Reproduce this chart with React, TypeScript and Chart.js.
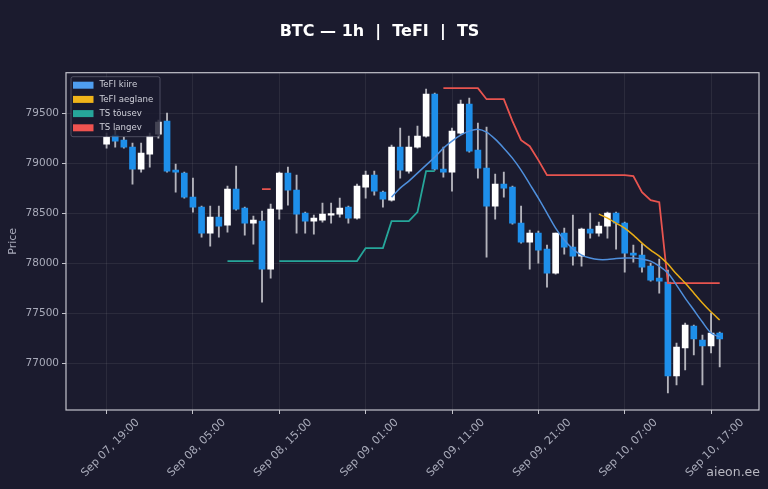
import { useEffect, useRef } from 'react';
import { Chart, registerables } from 'chart.js';

Chart.register(...registerables);

// hourly candles, Sep 07 19:00 -> Sep 10 18:00
const opens = [
  79190, 79280, 79230, 79160, 78940, 79090, 79290, 79420, 78930, 78900,
  78660, 78560, 78300, 78460, 78380, 78740, 78550, 78400, 78420, 77940,
  78540, 78900, 78730, 78500, 78420, 78430, 78480, 78490, 78560, 78450,
  78760, 78880, 78710, 78630, 79160, 78920, 79160, 79270, 79690, 78940,
  78910, 79300, 79590, 79130, 78950, 78570, 78790, 78760, 78400, 78210,
  78300, 78140, 77900, 78300, 78160, 78070, 78340, 78300, 78370, 78500,
  78400, 78100, 78080, 77970, 77850, 77810, 76870, 77150, 77370, 77230,
  77170, 77300,
];
const highs = [
  79300, 79340, 79260, 79200, 79200, 79300, 79430, 79500, 78990, 78910,
  78850, 78570, 78570, 78570, 78770, 78970, 78560, 78470, 78520, 78590,
  78910, 78960, 78880, 78510, 78480, 78600, 78600, 78650, 78570, 78790,
  78920, 78920, 78720, 79180, 79350, 79270, 79370, 79740, 79700, 79160,
  79350, 79630, 79650, 79400, 79360, 78890, 78910, 78770, 78570, 78330,
  78320, 78180, 78300, 78350, 78480, 78350, 78500, 78410, 78510, 78510,
  78410, 78180, 78190, 78000, 78040, 77930, 77200, 77400, 77380, 77280,
  77500, 77310,
];
const lows = [
  79150, 79160, 79150, 78790, 78910, 78960, 79250, 78910, 78710, 78650,
  78510, 78260, 78170, 78260, 78310, 78530, 78280, 78190, 77610, 77850,
  78440, 78580, 78300, 78300, 78290, 78410, 78400, 78460, 78400, 78440,
  78650, 78680, 78560, 78620, 78850, 78900, 79150, 79260, 78930, 78860,
  78720, 79290, 79110, 78850, 78060, 78440, 78660, 78390, 78200, 77940,
  78000, 77760, 77890, 78090, 77980, 77970, 78250, 78270, 78250, 78140,
  77910, 78010, 77910, 77820, 77700, 76700, 76780, 76930, 77080, 76780,
  77100, 76960,
];
const closes = [
  79260, 79220, 79160, 78940, 79100, 79270, 79410, 78920, 78910, 78660,
  78560, 78300, 78460, 78370, 78740, 78540, 78400, 78430, 77940, 78540,
  78900, 78730, 78490, 78420, 78450, 78490, 78490, 78550, 78450, 78770,
  78880, 78720, 78640, 79160, 78930, 79160, 79270, 79690, 78940, 78910,
  79320, 79590, 79120, 78950, 78570, 78790, 78750, 78400, 78210, 78300,
  78130, 77900, 78300, 78160, 78070, 78340, 78300, 78370, 78500, 78400,
  78100, 78080, 77960, 77830, 77820, 76870, 77160, 77380, 77240, 77170,
  77300, 77240,
];

const N = null;
const tefiFast = [
  N, N, N, N, N, N, N, N, N, N, N, N, N, N, N, N, N, N, N, N,
  N, N, N, N, N, N, N, N, N, N, N, N, N, 78660, 78750, 78820, 78900, 78980, 79060, 79150,
  79220, 79280, 79320, 79340, 79310, 79240, 79150, 79050, 78930, 78790,
  78650, 78500, 78350, 78230, 78140, 78080, 78050, 78035, 78035, 78045,
  78050, 78050, 78040, 78020, 77970, 77900, 77780, 77650, 77530, 77410,
  77300, 77260,
];
const tefiSlow = [
  N, N, N, N, N, N, N, N, N, N, N, N, N, N, N, N, N, N, N, N,
  N, N, N, N, N, N, N, N, N, N, N, N, N, N, N, N, N, N, N, N,
  N, N, N, N, N, N, N, N, N, N, N, N, N, N, N, N, N, 78490, 78450, 78400,
  78350, 78280, 78200, 78130, 78070, 77990, 77890, 77800, 77700, 77600,
  77510, 77430,
];
const tsUp = [
  N, N, N, N, N, N, N, N, N, N, N, N, N, N, 78020, 78020, 78020, 78020, N, N,
  78020, 78020, 78020, 78020, 78020, 78020, 78020, 78020, 78020, 78020,
  78150, 78150, 78150, 78420, 78420, 78420, 78510, 78920, 78920, N,
  N, N, N, N, N, N, N, N, N, N, N, N, N, N, N, N, N, N, N, N,
  N, N, N, N, N, N, N, N, N, N, N, N,
];
const tsDown = [
  N, N, N, N, N, N, N, N, N, N, N, N, N, N, N, N, N, N, 78740, 78740,
  N, N, N, N, N, N, N, N, N, N, N, N, N, N, N, N, N, N, N, 79750,
  79750, 79750, 79750, 79750, 79640, 79640, 79640, 79420, 79230, 79170,
  79030, 78880, 78880, 78880, 78880, 78880, 78880, 78880, 78880, 78880,
  78880, 78870, 78710, 78630, 78610, 77800, 77800, 77800, 77800, 77800,
  77800, 77800,
];

const xTickPos = [0, 10, 20, 30, 40, 50, 60, 70];
const xTickLabels = [
  'Sep 07, 19:00', 'Sep 08, 05:00', 'Sep 08, 15:00', 'Sep 09, 01:00',
  'Sep 09, 11:00', 'Sep 09, 21:00', 'Sep 10, 07:00', 'Sep 10, 17:00',
];
const yTicks = [77000, 77500, 78000, 78500, 79000, 79500];

const BG = '#1b1b2e';
const TEXT = '#a9abba';
const AXIS = '#c4c4cc';
const GRID = 'rgba(255,255,255,0.07)';
const UP = '#ffffff';
const DOWN = '#1e8fea';
const WICK = '#b4b4bc';
const FONT = '"DejaVu Sans", sans-serif';

const legendItems = [
  { label: 'TeFI kiire', color: '#4f9ef0' },
  { label: 'TeFI aeglane', color: '#f0b41a' },
  { label: 'TS tõusev', color: '#26a69a' },
  { label: 'TS langev', color: '#ef5350' },
];

const toXY = (arr: (number | null)[]) => arr.map((v, i) => ({ x: i, y: v }));

const framePlugin = {
  id: 'frameAndLegend',
  afterDatasetsDraw(chart: Chart) {
    const { ctx, chartArea: a } = chart;
    ctx.save();
    ctx.strokeStyle = AXIS;
    ctx.lineWidth = 1.2;
    ctx.strokeRect(a.left, a.top, a.right - a.left, a.bottom - a.top);

    // legend box in the upper-left corner of the plot
    const bx = a.left + 5;
    const by = a.top + 4;
    ctx.fillStyle = 'rgba(27,27,46,0.82)';
    ctx.strokeStyle = 'rgba(140,140,160,0.45)';
    ctx.lineWidth = 1;
    ctx.beginPath();
    ctx.roundRect(bx, by, 89, 60, 2);
    ctx.fill();
    ctx.stroke();
    ctx.font = `8.6px ${FONT}`;
    ctx.textBaseline = 'middle';
    legendItems.forEach((item, k) => {
      const cy = by + 8.5 + k * 14.2;
      ctx.fillStyle = item.color;
      ctx.fillRect(bx + 2, cy - 3.5, 20.5, 7);
      ctx.fillStyle = '#cfd0da';
      ctx.fillText(item.label, bx + 28.5, cy);
    });
    ctx.restore();
  },
  afterDraw(chart: Chart) {
    const { ctx } = chart;
    ctx.save();
    ctx.font = `12.5px ${FONT}`;
    ctx.fillStyle = '#b8b8c2';
    ctx.textAlign = 'right';
    ctx.textBaseline = 'alphabetic';
    ctx.fillText('aieon.ee', 760, 476);
    ctx.restore();
  },
};

export default function App() {
  const canvasRef = useRef<HTMLCanvasElement>(null);

  useEffect(() => {
    document.body.style.margin = '0';
    document.body.style.background = BG;
    if (!canvasRef.current) return;
    const ctx = canvasRef.current.getContext('2d');
    if (!ctx) return;

    const chart = new Chart(ctx, {
      type: 'bar',
      data: {
        datasets: [
          {
            type: 'line',
            label: 'TeFI kiire',
            data: toXY(tefiFast),
            borderColor: '#4f8fdc',
            borderWidth: 1.5,
            pointRadius: 0,
            tension: 0.3,
            order: 0,
          },
          {
            type: 'line',
            label: 'TeFI aeglane',
            data: toXY(tefiSlow),
            borderColor: '#e8ac16',
            borderWidth: 1.5,
            pointRadius: 0,
            tension: 0.2,
            order: 0,
          },
          {
            type: 'line',
            label: 'TS tõusev',
            data: toXY(tsUp),
            borderColor: '#26a69a',
            borderWidth: 1.8,
            pointRadius: 0,
            spanGaps: false,
            order: 0,
          },
          {
            type: 'line',
            label: 'TS langev',
            data: toXY(tsDown),
            borderColor: '#e8544f',
            borderWidth: 1.8,
            pointRadius: 0,
            spanGaps: false,
            order: 0,
          },
          {
            type: 'bar',
            label: 'body',
            data: opens.map((o, i) => ({ x: i, y: [o, closes[i]] })) as any,
            backgroundColor: opens.map((o, i) => (closes[i] >= o ? UP : DOWN)),
            borderWidth: 0,
            barThickness: 6,
            minBarLength: 1.5,
            grouped: false,
            order: 1,
          },
          {
            type: 'bar',
            label: 'wick',
            data: lows.map((l, i) => ({ x: i, y: [l, highs[i]] })) as any,
            backgroundColor: WICK,
            borderWidth: 0,
            barThickness: 1.2,
            grouped: false,
            order: 2,
          },
        ],
      },
      options: {
        responsive: true,
        maintainAspectRatio: false,
        animation: false,
        layout: { padding: { left: 0, right: 9, top: 0, bottom: 0 } },
        plugins: {
          legend: { display: false },
          tooltip: { enabled: false },
          title: {
            display: true,
            text: 'BTC — 1h  |  TeFI  |  TS',
            color: '#ffffff',
            font: { family: FONT, size: 16, weight: 'bold' },
            padding: { top: 22.4, bottom: 31.1 },
          },
        },
        scales: {
          x: {
            type: 'linear',
            min: -4.7,
            max: 75.55,
            offset: false,
            afterBuildTicks: (s: any) => {
              s.ticks = xTickPos.map((v) => ({ value: v }));
            },
            afterFit: (s: any) => {
              s.height = 79;
            },
            ticks: {
              autoSkip: false,
              minRotation: 45,
              maxRotation: 45,
              labelOffset: 31,
              padding: 2,
              color: TEXT,
              font: { family: FONT, size: 11 },
              callback: (v: any) => xTickLabels[xTickPos.indexOf(Number(v))] ?? '',
            },
            grid: { color: GRID, offset: false, tickColor: AXIS, tickLength: 4 },
            border: { display: false },
          },
          y: {
            min: 76530,
            max: 79905,
            afterBuildTicks: (s: any) => {
              s.ticks = yTicks.map((v) => ({ value: v }));
            },
            afterFit: (s: any) => {
              s.width = 66;
            },
            ticks: {
              color: TEXT,
              padding: 3,
              font: { family: FONT, size: 10.5 },
              callback: (v: any) => String(v),
            },
            grid: { color: GRID, tickColor: AXIS, tickLength: 4 },
            border: { display: false },
            title: {
              display: true,
              text: 'Price',
              color: TEXT,
              font: { family: FONT, size: 11 },
              padding: { top: 7, bottom: 0 },
            },
          },
        },
      },
      plugins: [framePlugin],
    });

    return () => {
      chart.destroy();
    };
  }, []);

  return (
    <div style={{ position: 'relative', width: 768, height: 489, background: BG }}>
      <canvas ref={canvasRef}></canvas>
    </div>
  );
}
